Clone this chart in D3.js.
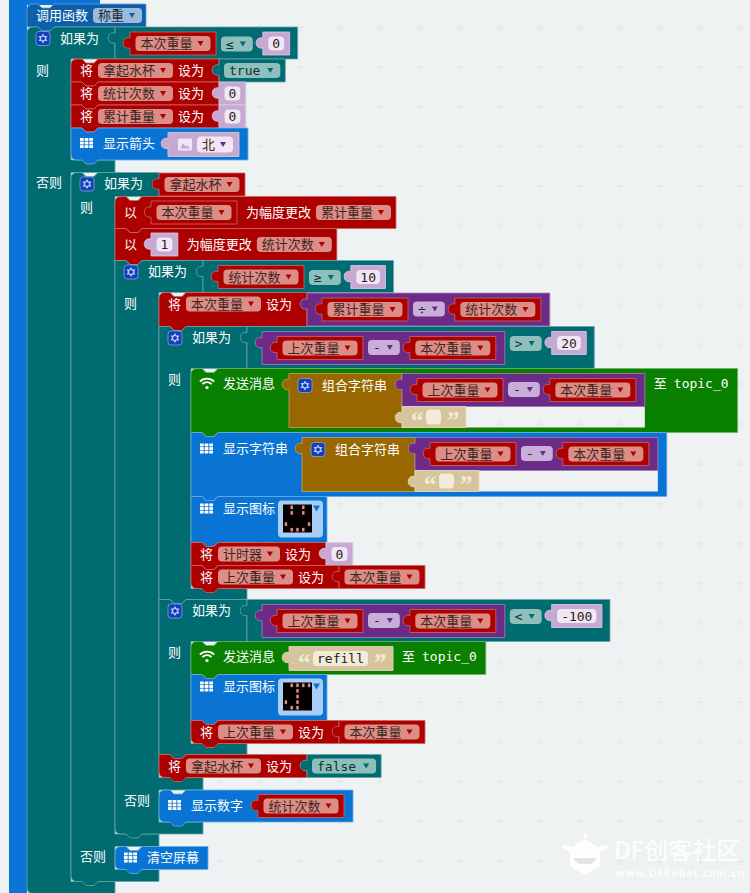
<!DOCTYPE html>
<html>
<head>
<meta charset="utf-8">
<script src="https://cdn.jsdelivr.net/npm/d3@7"></script>
<style>
  html, body { margin: 0; background: #eef2f3; }
  svg { display: block; }
</style>
</head>
<body>
<svg id="chart" width="750" height="893"></svg>
<script>
// ── Program content ──
const functionName = "称重";
const smileLeds  = [".#.#.", ".#.#.", ".....", "#...#", ".###."];
const refillLeds = [".####", "..#..", "..#..", "#.#..", ".##.."];
const diffExpr = ["math", "上次重量", "-", "本次重量"];

const dropBlocks = [
  ["send", ["join", diffExpr, ""], "topic_0"],
  ["showString", ["join", diffExpr, ""]],
  ["icon", smileLeds],
  ["set", "计时器", ["num", "0"]],
  ["set", "上次重量", "本次重量"]
];
const refillBlocks = [
  ["send", ["text", "refill"], "topic_0"],
  ["icon", refillLeds],
  ["set", "上次重量", "本次重量"]
];
const averageBlocks = [
  ["set", "本次重量", ["math", "累计重量", "÷", "统计次数"]],
  ["if", ["cmp", diffExpr, ">", ["num", "20"]], dropBlocks],
  ["if", ["cmp", diffExpr, "<", ["num", "-100"]], refillBlocks],
  ["set", "拿起水杯", ["bool", "false"]]
];
const countElseBlocks = [["number", "统计次数"]];
const pickedBlocks = [
  ["change", "本次重量", "累计重量"],
  ["change", ["num", "1"], "统计次数"],
  ["if", ["cmp", "统计次数", "≥", ["num", "10"]], averageBlocks, countElseBlocks]
];
const idleBlocks = [["clear"]];
const liftedBlocks = [
  ["set", "拿起水杯", ["bool", "true"]],
  ["set", "统计次数", ["num", "0"]],
  ["set", "累计重量", ["num", "0"]],
  ["arrow", "北"]
];
const elseBlocks = [["if", "拿起水杯", pickedBlocks, idleBlocks]];
const programBlocks = [
  ["if", ["cmp", "本次重量", "≤", ["num", "0"]], liftedBlocks, elseBlocks]
];

// ── Colours ──
const colors = {
  bg: "#eef2f3", mark: "#e0e6e8",
  fnBlue: "#0a74d8", callBlue: "#0c5fa8", callPill: "#9dbbd8",
  logic: "#006b70", logicPill: "#8fbfbc",
  red: "#ad0000", redPill: "#dc8d85",
  blue: "#0a74d4", bluePale: "#a9cef5",
  green: "#0a8000",
  purple: "#6c2b87", purplePill: "#c8aed8",
  brown: "#996700",
  beige: "#d6c59c", beigeField: "#f2ebda",
  num: "#c6a9d1", numField: "#f2e6f4",
  ink: "#3d2522"
};

const cjkFont = '"Noto Sans CJK SC"';
const monoFont = '"DejaVu Sans Mono"';
const fontSize = 13;

// ── Text measuring ──
const measureCtx = document.createElement("canvas").getContext("2d");
function textW(t, font) {
  measureCtx.font = `${fontSize}px ${font}`;
  return measureCtx.measureText(t).width;
}
const cjkW = t => textW(t, cjkFont);
const monoW = t => textW(t, monoFont);

const svg = d3.select("#chart");

// ── Background: dot grid is a pattern so holes in blocks can show it too ──
const pattern = svg.append("defs").append("pattern")
  .attr("id", "workspace")
  .attr("patternUnits", "userSpaceOnUse")
  .attr("x", 0).attr("y", 7.3)
  .attr("width", 40).attr("height", 39.7);
pattern.append("rect").attr("width", 40).attr("height", 39.7).attr("fill", colors.bg);
pattern.append("path")
  .attr("d", "M20,16V24M16,20H24")
  .attr("stroke", colors.mark).attr("stroke-width", 1);

svg.append("rect").attr("width", 750).attr("height", 893).attr("fill", "url(#workspace)");
svg.append("rect").attr("x", 9).attr("width", 18).attr("height", 893).attr("fill", colors.fnBlue);
svg.append("rect").attr("x", 9).attr("width", 91).attr("height", 5).attr("fill", colors.fnBlue);

// ── Shapes ──
function stmtOutline(p, x, y, w, h, first) {
  if (first) {
    p.moveTo(x, y + 6);
    p.quadraticCurveTo(x, y, x + 6, y);
  } else {
    p.moveTo(x, y);
  }
  p.lineTo(x + 11, y); p.lineTo(x + 15, y + 4); p.lineTo(x + 23, y + 4); p.lineTo(x + 27, y);
  p.lineTo(x + w, y);
  p.lineTo(x + w, y + h);
}
function stmtClose(p, x, y, h, last) {
  const r = 6;
  p.lineTo(x + 27, y + h); p.lineTo(x + 23, y + h + 4); p.lineTo(x + 15, y + h + 4); p.lineTo(x + 11, y + h);
  if (last) {
    p.lineTo(x + r, y + h);
    p.quadraticCurveTo(x, y + h, x, y + h - r);
  } else {
    p.lineTo(x, y + h);
  }
  p.closePath();
}
function strokeOf(fill) {
  return d3.interpolateRgb(fill, "#fff")(0.4);
}
function drawShape(d, fill) {
  svg.append("path").attr("d", d).attr("fill", fill)
    .attr("stroke", strokeOf(fill)).attr("stroke-width", 0.8);
}
function drawStmt(x, y, w, h, fill, first, last) {
  const p = d3.path();
  stmtOutline(p, x, y, w, h, first);
  stmtClose(p, x, y, h, last);
  drawShape(p.toString(), fill);
}
function drawValueBox(x, y, w, h, fill) {
  const p = d3.path();
  p.moveTo(x, y);
  p.lineTo(x + w, y); p.lineTo(x + w, y + h); p.lineTo(x, y + h);
  p.lineTo(x, y + 16);
  p.bezierCurveTo(x - 9, y + 18, x - 9, y + 4, x, y + 6);
  p.closePath();
  drawShape(p.toString(), fill);
}
function label(x, cy, t, opts = {}) {
  svg.append("text").attr("x", x).attr("y", cy).attr("dy", "0.36em")
    .attr("font-family", opts.font || cjkFont)
    .attr("font-size", opts.size || fontSize)
    .attr("font-weight", opts.weight || 400)
    .attr("fill", opts.fill || "#fff")
    .text(t);
}
function drawPill(x, cy, w, h, bg, t, font, ink, arrow) {
  svg.append("rect").attr("x", x).attr("y", cy - h / 2).attr("width", w).attr("height", h)
    .attr("rx", 4).attr("fill", bg);
  label(x + 5, cy, t, { font, fill: ink });
  const ax = x + w - 10;
  svg.append("path")
    .attr("d", `M${ax - 3},${cy - 2.5}H${ax + 3}L${ax},${cy + 2.5}Z`)
    .attr("fill", arrow);
}
const varPillW = t => cjkW(t) + 23;
function drawVarPill(x, cy, t) {
  drawPill(x, cy, varPillW(t), 15, colors.redPill, t, cjkFont, colors.ink, colors.red);
}
function dropdownW(t) { return monoW(t) + 24; }

// ── Icons ──
function gearIcon(x, cy) {
  const g = svg.append("g").attr("transform", `translate(${x + 7},${cy})`);
  g.append("rect").attr("x", -7).attr("y", -7).attr("width", 14).attr("height", 14).attr("rx", 3)
    .attr("fill", "#143fb8").attr("stroke", "#8fb0ee").attr("stroke-width", 0.7);
  g.append("path").attr("d", d3.symbol(d3.symbolTriangle, 34)()).attr("fill", "#b8d0f5");
  g.append("path").attr("d", d3.symbol(d3.symbolTriangle, 34)()).attr("fill", "#b8d0f5").attr("transform", "rotate(180)");
  g.append("circle").attr("r", 2).attr("fill", "#143fb8");
}
function gridIcon(x, cy) {
  const bandX = d3.scaleBand().domain(d3.range(3)).range([0, 13]).paddingInner(0.2);
  const bandY = d3.scaleBand().domain(d3.range(3)).range([0, 10]).paddingInner(0.2);
  const g = svg.append("g").attr("transform", `translate(${x},${cy - 5})`);
  d3.cross(d3.range(3), d3.range(3)).forEach(([i, j]) => {
    g.append("rect").attr("x", bandX(i)).attr("y", bandY(j))
      .attr("width", bandX.bandwidth()).attr("height", bandY.bandwidth()).attr("fill", "#fff");
  });
}
function wifiIcon(x, cy) {
  const g = svg.append("g").attr("transform", `translate(${x + 7},${cy + 5})`);
  [9, 5.5].forEach(r => {
    g.append("path")
      .attr("d", d3.arc().innerRadius(r).outerRadius(r + 1.8).startAngle(-0.8).endAngle(0.8)())
      .attr("fill", "#fff");
  });
  g.append("circle").attr("r", 1.6).attr("cy", -1).attr("fill", "#fff");
}
function ledField(x, y, leds) {
  svg.append("rect").attr("x", x).attr("y", y).attr("width", 45).attr("height", 37).attr("rx", 4)
    .attr("fill", colors.bluePale);
  svg.append("path")
    .attr("d", `M${x + 35},${y + 5}H${x + 42}L${x + 38.5},${y + 11}Z`)
    .attr("fill", colors.blue);
  const bandX = d3.scaleBand().domain(d3.range(5)).range([x + 5, x + 34]);
  const bandY = d3.scaleBand().domain(d3.range(5)).range([y + 4, y + 32]);
  svg.append("rect").attr("x", x + 5).attr("y", y + 4).attr("width", 29).attr("height", 28).attr("fill", "#050000");
  leds.forEach((row, j) => {
    row.split("").forEach((c, i) => {
      if (c !== "#") return;
      svg.append("rect")
        .attr("x", bandX(i) + bandX.bandwidth() / 2 - 1.2)
        .attr("y", bandY(j) + bandY.bandwidth() / 2 - 1.8)
        .attr("width", 2.4).attr("height", 3.6)
        .attr("fill", "#e88f88");
    });
  });
}

// ── Value sizes ──
function sizeOf(v) {
  if (typeof v === "string") return { w: varPillW(v) + 11, h: 23 };
  switch (v[0]) {
    case "num":  return { w: monoW(v[1]) + 19, h: 23 };
    case "bool": return { w: monoW(v[1]) + 35, h: 23 };
    case "text": return { w: v[1] ? 104 : 64, h: 24 };
    case "image": return { w: 71, h: 24 };
    case "math":
      return { w: 15 + sizeOf(v[1]).w + 5 + dropdownW(v[2]) + 10 + sizeOf(v[3]).w + 9, h: 33 };
    case "cmp": {
      const a = sizeOf(v[1]), b = sizeOf(v[3]);
      return { w: 15 + a.w + 5 + dropdownW(v[2]) + 10 + b.w + 8, h: Math.max(a.h, b.h) + 9 };
    }
    case "join": {
      const a = sizeOf(v[1]);
      return { w: 113 + a.w, h: a.h + 21 };
    }
  }
}

// ── Value drawing ──
function drawValue(v, x, y, h) {
  const s = sizeOf(v);
  if (typeof v === "string") {
    drawValueBox(x, y, s.w, s.h, colors.red);
    drawVarPill(x + 5.5, y + s.h / 2, v);
    return;
  }
  switch (v[0]) {
    case "num": {
      drawValueBox(x, y, s.w, s.h, colors.num);
      const fw = s.w - 11;
      svg.append("rect").attr("x", x + 5.5).attr("y", y + 4.5).attr("width", fw).attr("height", 14)
        .attr("rx", 4).attr("fill", colors.numField);
      label(x + 5.5 + (fw - monoW(v[1])) / 2, y + 11.5, v[1], { font: monoFont, fill: "#222" });
      break;
    }
    case "bool":
      drawValueBox(x, y, s.w, s.h, colors.logic);
      drawPill(x + 5, y + s.h / 2, s.w - 10, 15, colors.logicPill, v[1], monoFont, "#14302f", colors.logic);
      break;
    case "text": {
      const bh = h || s.h, cy = y + bh / 2;
      drawValueBox(x, y, s.w, bh, colors.beige);
      const quote = (qx, t) => label(qx, cy + 3, t, { font: '"Liberation Serif"', size: 25, weight: 700, fill: colors.beigeField });
      quote(x + 9, "“");
      quote(x + s.w - 19, "”");
      svg.append("rect").attr("x", x + 24).attr("y", cy - 7.5).attr("width", s.w - 49).attr("height", 15)
        .attr("rx", 4).attr("fill", colors.beigeField);
      if (v[1]) label(x + 28, cy, v[1], { font: monoFont, fill: "#222" });
      break;
    }
    case "image":
      drawValueBox(x, y, s.w, s.h, colors.num);
      svg.append("rect").attr("x", x + 10).attr("y", y + 6).attr("width", 14).attr("height", 12)
        .attr("rx", 1.5).attr("fill", colors.numField);
      svg.append("path").attr("d", `M${x + 12},${y + 16}l3,-5l3,3l2,-1l2,3Z`).attr("fill", colors.num);
      drawPill(x + 29, y + s.h / 2, 36, 16, colors.numField, v[1], cjkFont, colors.ink, colors.purple);
      break;
    case "math": {
      drawValueBox(x, y, s.w, s.h, colors.purple);
      const a = sizeOf(v[1]);
      drawValue(v[1], x + 15, y + 5);
      const dx = x + 15 + a.w + 5, dw = dropdownW(v[2]);
      drawPill(dx, y + 16, dw, 15, colors.purplePill, v[2], monoFont, "#222", colors.purple);
      drawValue(v[3], dx + dw + 10, y + 5);
      break;
    }
    case "cmp": {
      drawValueBox(x, y, s.w, s.h, colors.logic);
      const a = sizeOf(v[1]);
      drawValue(v[1], x + 15, y + 5);
      const dx = x + 15 + a.w + 5, dw = dropdownW(v[2]);
      drawPill(dx, y + 17, dw, 15, colors.logicPill, v[2], monoFont, "#14302f", colors.logic);
      drawValue(v[3], dx + dw + 10, y + 5);
      break;
    }
    case "join": {
      const a = sizeOf(v[1]);
      const headW = 113;
      // the part below the first row is cut out of the parent block
      svg.append("rect").attr("x", x + headW).attr("y", y + a.h)
        .attr("width", a.w).attr("height", 21).attr("fill", "url(#workspace)");
      drawValueBox(x, y, headW, s.h, colors.brown);
      gearIcon(x + 9, y + 12);
      label(x + 33, y + 12, "组合字符串");
      drawValue(v[1], x + headW, y);
      drawValue(["text", v[2]], x + headW, y + a.h, 21);
      break;
    }
  }
}

// ── Statement sizes ──
function stmtH(s) {
  switch (s[0]) {
    case "set": return sizeOf(s[2]).h > 23 ? sizeOf(s[2]).h + 1 : 23;
    case "change": return 32;
    case "arrow": return 32;
    case "number": return 32;
    case "send": return s[1][0] === "join" ? 64 : 33;
    case "showString": return 64;
    case "icon": return 46;
    case "clear": return 23;
    case "if": {
      const head = headH(s);
      const body = stackH(s[2]);
      return s[3] ? head + body + 12.5 + stackH(s[3]) + 12 : head + body + 11;
    }
  }
}
const stackH = list => d3.sum(list, stmtH);
const headH = s => typeof s[1] === "string" ? 24 : sizeOf(s[1]).h;

// ── Statement drawing ──
function drawStatement(s, x, y, first, last) {
  const h = stmtH(s);
  switch (s[0]) {
    case "set": {
      const pill = varPillW(s[1]);
      const w = 9 + 13 + 5 + pill + 5 + 26 + 15;
      const cy = y + 11.5;
      drawStmt(x, y, w, h, colors.red, first, last);
      label(x + 9, cy, "将");
      drawVarPill(x + 27, cy, s[1]);
      label(x + 27 + pill + 5, cy, "设为");
      drawValue(s[2], x + w, y + (h > 23 ? 0.5 : 0));
      break;
    }
    case "change": {
      const v = s[1];
      const vs = sizeOf(v);
      const after = x + 36 + vs.w + 9;
      const w = after - x + cjkW("为幅度更改") + 5 + varPillW(s[2]) + 5;
      const cy = y + h / 2;
      drawStmt(x, y, w, h, colors.red, first, last);
      label(x + 9, cy, "以");
      drawValue(v, x + 36, y + 4.5);
      label(after, cy, "为幅度更改");
      drawVarPill(after + cjkW("为幅度更改") + 5, cy, s[2]);
      break;
    }
    case "arrow": {
      const v = ["image", s[1]];
      const w = 97 + sizeOf(v).w + 9;
      drawStmt(x, y, w, h, colors.blue, first, last);
      gridIcon(x + 9, y + 15);
      label(x + 32, y + 15, "显示箭头");
      drawValue(v, x + 97, y + 4.5);
      break;
    }
    case "number": {
      const w = 99 + sizeOf(s[1]).w + 9;
      drawStmt(x, y, w, h, colors.blue, first, last);
      gridIcon(x + 9, y + 15);
      label(x + 32, y + 15, "显示数字");
      drawValue(s[1], x + 99, y + 4.5);
      break;
    }
    case "showString": {
      const vx = x + 32 + cjkW("显示字符串") + 14;
      const w = vx - x + sizeOf(s[1]).w + 9;
      drawStmt(x, y, w, h, colors.blue, first, last);
      gridIcon(x + 9, y + 16);
      label(x + 32, y + 16, "显示字符串");
      drawValue(s[1], vx, y + 5);
      break;
    }
    case "send": {
      const vx = x + 32 + cjkW("发送消息") + 14;
      const vw = sizeOf(s[1]).w;
      const tail = vx + vw + 9;
      const w = tail - x + 13 + 7 + monoW(s[2]) + 9;
      drawStmt(x, y, w, h, colors.green, first, last);
      wifiIcon(x + 9, y + 15);
      label(x + 32, y + 15, "发送消息");
      drawValue(s[1], vx, y + 5);
      label(tail, y + 15, "至");
      label(tail + 20, y + 15, s[2], { font: monoFont });
      break;
    }
    case "icon": {
      drawStmt(x, y, 136, h, colors.blue, first, last);
      gridIcon(x + 9, y + 12);
      label(x + 32, y + 12, "显示图标");
      ledField(x + 87, y + 4, s[1]);
      break;
    }
    case "clear": {
      const w = 32 + cjkW("清空屏幕") + 9;
      drawStmt(x, y, w, h, colors.blue, first, last);
      gridIcon(x + 9, y + 11);
      label(x + 32, y + 11, "清空屏幕");
      break;
    }
    case "if":
      drawIf(s, x, y, first, last);
      break;
  }
}
function drawStack(list, x, y) {
  let cursor = y;
  list.forEach((s, i) => {
    drawStatement(s, x, cursor, i === 0, i === list.length - 1);
    cursor += stmtH(s);
  });
}
function drawIf(s, x, y, first, last) {
  const cond = s[1], thenList = s[2], elseList = s[3];
  const head = headH(s);
  const strip = elseList ? 44 : 32;
  const sep = 88;
  const thenEnd = y + head + stackH(thenList);
  const elseStart = thenEnd + 12.5;
  const p = d3.path();
  stmtOutline(p, x, y, sep, head, first);
  p.lineTo(x + strip, y + head);
  p.lineTo(x + strip, thenEnd);
  p.lineTo(x + sep, thenEnd);
  let bottom = thenEnd + 11;
  if (elseList) {
    const elseEnd = elseStart + stackH(elseList);
    p.lineTo(x + sep, elseStart);
    p.lineTo(x + strip, elseStart);
    p.lineTo(x + strip, elseEnd);
    p.lineTo(x + sep, elseEnd);
    bottom = elseEnd + 12;
  }
  p.lineTo(x + sep, bottom);
  stmtClose(p, x, y, bottom - y, last);
  drawShape(p.toString(), colors.logic);
  gearIcon(x + 9, y + 11.5);
  label(x + 33, y + 11, "如果为");
  label(x + 9, y + head + 11, "则");
  if (elseList) {
    label(x + 9, elseStart + 10, "否则");
    drawStack(elseList, x + strip, elseStart);
  }
  drawValue(cond, x + sep, y + (typeof cond === "string" ? 0.5 : 0));
  drawStack(thenList, x + strip, y + head);
}

// ── Top call block ──
const callW = 9 + cjkW("调用函数") + 5 + varPillW(functionName) + 4;
drawStmt(27, 4, callW, 23, colors.callBlue, true, false);
label(36, 15, "调用函数");
drawPill(36 + cjkW("调用函数") + 5, 15.5, varPillW(functionName), 15, colors.callPill, functionName, cjkFont, "#1d2c3a", colors.callBlue);

drawStack(programBlocks, 27, 27);

// ── Site watermark ──
const wm = svg.append("g").attr("fill", "#fff").attr("fill-opacity", 0.9);
wm.append("path")
  .attr("d", "M585,839L598,847L605,845L606,849L600,852V866L585,875L570,866V852L564,849L565,845L572,847Z");
[[585, 836], [564, 847], [606, 847]].forEach(([cx, cy]) => {
  wm.append("circle").attr("cx", cx).attr("cy", cy).attr("r", 2);
});
wm.append("path")
  .attr("d", "M574,858H596V860L591,864H579L574,860Z")
  .attr("fill", "#dfe5e8").attr("fill-opacity", 1);
wm.append("text").attr("x", 614).attr("y", 859)
  .attr("font-family", cjkFont).attr("font-size", 24).attr("font-weight", 500)
  .text("DF创客社区");
wm.append("text").attr("x", 616).attr("y", 877)
  .attr("font-family", '"Noto Sans"').attr("font-size", 10.5).attr("font-weight", 700)
  .attr("textLength", 128)
  .text("www.DFRobot.com.cn");
</script>
</body>
</html>
